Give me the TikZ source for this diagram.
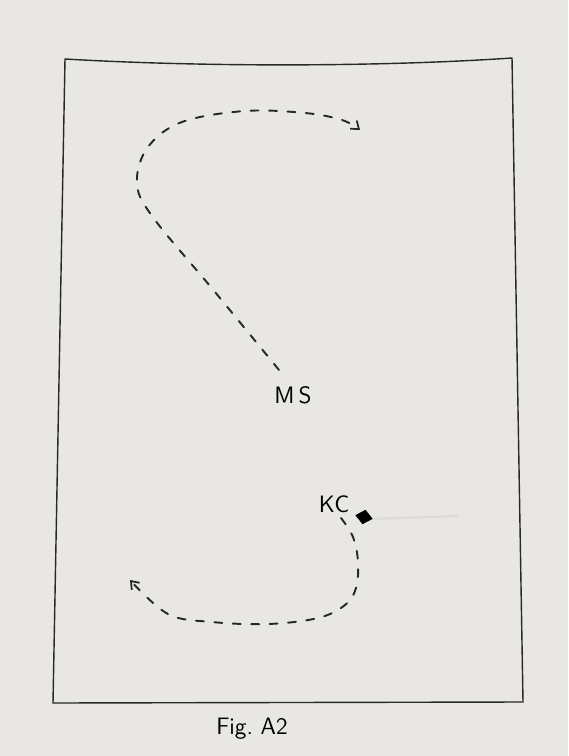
\documentclass[tikz,border=0pt]{standalone}
\usetikzlibrary{arrows.meta,shapes.geometric}

\definecolor{paper}{RGB}{233,231,228}
\definecolor{ink}{RGB}{40,40,40}
\definecolor{pencil}{RGB}{221,219,216}

\begin{document}
\begin{tikzpicture}[
    x=0.02cm, y=-0.02cm,
    frameLine/.style={draw=ink, line width=0.8pt, line join=round},
    trackLine/.style={draw=ink, line width=1.1pt, line cap=round,
        dash pattern=on 4.5pt off 6pt,
        -{Straight Barb[length=4pt,width=6pt,line width=1pt]}},
    tagText/.style={font=\sffamily\fontsize{13.5}{16}\selectfont, text=black, inner sep=1pt},
    kcMarker/.style={diamond, fill=black, inner sep=0pt,
        minimum width=0.36cm, minimum height=0.3cm, rotate=-12}
]
    % --- 0. Paper and frame ---
    \fill[paper] (0,0) rectangle (568,756);
    \useasboundingbox (0,0) rectangle (568,756);
    \coordinate (tl) at (65,59);
    \coordinate (tr) at (512,58);
    \coordinate (br) at (523,702);
    \coordinate (bl) at (53,703);
    \draw[frameLine] (tl) .. controls (200,67) and (380,67) .. (tr)
        -- (br) -- (bl) -- cycle;

    % --- 1. MS and its track ---
    \node[tagText] (ms) at (293,395) {M\,S};
    \coordinate (msStart) at (279,370);
    \coordinate (msEnd) at (360,130);
    \draw[trackLine] plot[smooth, tension=0.6] coordinates {
        (msStart) (215,292) (152,216) (137,182) (148,147)
        (182,122) (245,111) (305,113) (342,120) (msEnd)};

    % --- 2. KC, marker and its track ---
    \node[tagText] (kc) at (334,504) {KC};
    \node[kcMarker] (kcMark) at (364,517) {};
    \coordinate (smudgeEnd) at (458,516);
    \draw[pencil, line width=1.2pt] (kcMark.east) -- (smudgeEnd);
    \coordinate (kcStart) at (341,518);
    \coordinate (kcEnd) at (130,580);
    \draw[trackLine] plot[smooth, tension=0.6] coordinates {
        (kcStart) (353,537) (358,562) (356,588) (345,605)
        (318,618) (268,624) (212,622) (168,614) (kcEnd)};

    % --- 3. Caption ---
    \node[tagText] (caption) at (252,729) {Fig.\ A2};
\end{tikzpicture}
\end{document}
